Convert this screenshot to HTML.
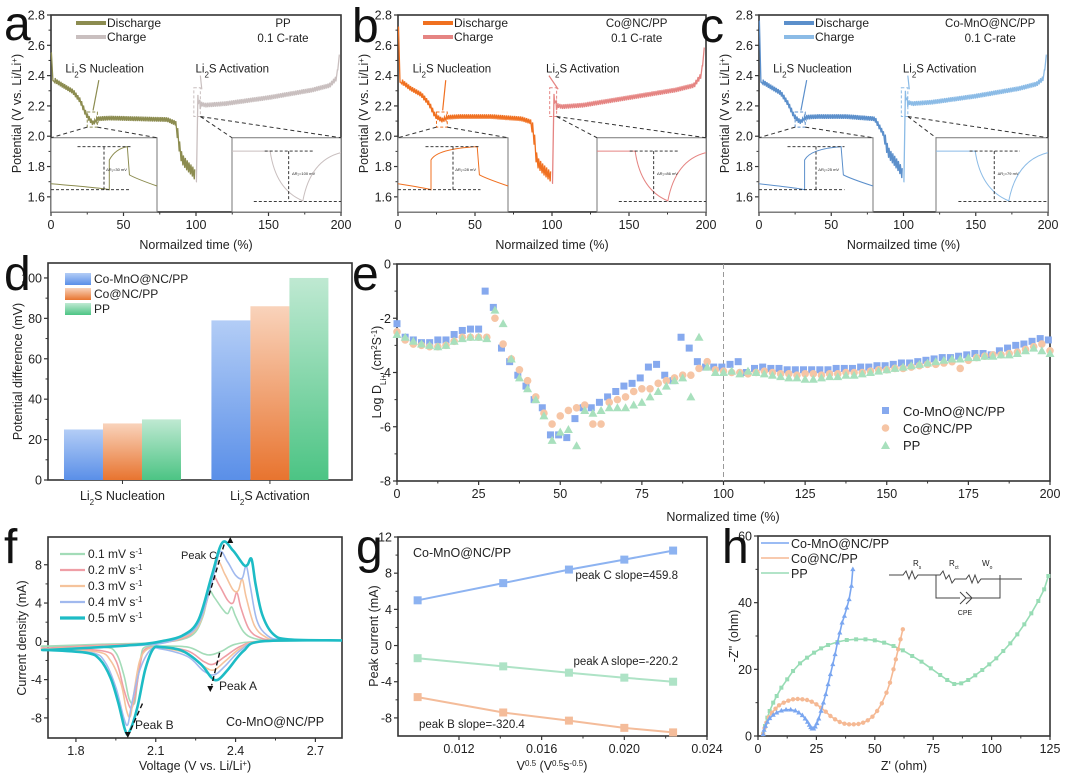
<!DOCTYPE html>
<html><head><meta charset="utf-8">
<style>
html,body{margin:0;padding:0;background:#fff;}
svg{display:block;font-family:"Liberation Sans",Arial,sans-serif;}
</style></head>
<body>
<svg id="fig" width="1080" height="778" viewBox="0 0 1080 778" xmlns="http://www.w3.org/2000/svg"></svg>
<script>
// ---------- data ----------
// panel a/b/c: GITT envelopes (t %, V loaded) and relaxation amplitude
const dchT = [0,1,3,8,15,20,24,27,29,32,40,60,80,86,88,90,94,97,100];
const aDchV = [2.55,2.37,2.35,2.32,2.28,2.22,2.13,2.09,2.07,2.10,2.105,2.10,2.095,2.07,1.92,1.82,1.77,1.74,1.70];
const bDchV = [2.72,2.36,2.34,2.30,2.26,2.20,2.12,2.10,2.09,2.11,2.115,2.115,2.10,2.08,1.98,1.80,1.75,1.72,1.69];
const cDchV = [2.76,2.36,2.34,2.31,2.27,2.20,2.12,2.09,2.08,2.11,2.115,2.115,2.10,2.00,1.90,1.85,1.80,1.76,1.70];
const chT = [100,100.5,101,103,106,120,150,180,192,197,199,200];
const aChV = [1.70,2.10,2.28,2.23,2.22,2.23,2.27,2.32,2.35,2.40,2.55,2.80];
const bChV = [1.69,2.10,2.29,2.22,2.21,2.22,2.27,2.32,2.35,2.42,2.60,2.80];
const cChV = [1.70,2.10,2.31,2.24,2.23,2.24,2.28,2.33,2.36,2.40,2.55,2.80];
const relaxAmp = 0.03;
// panel d
const dCats = ["Nucleation","Activation"];
const dBlue = [25,79];
const dOrange = [28,86];
const dGreen = [30,100];
// panel e
const eBlueX = [0,2.5,5,7.5,10,12.5,15,17.5,20,22.5,25,27,29.5,32,34.5,37,39.5,42,44.5,47,49.5,52,54.5,57,59.5,62,64.5,67,69.5,72,74.5,77,79.5,82,84.5,87,89.5,92,94.5,97,99.5,102,104.5,107,109.5,112,114.5,117,119.5,122,124.5,127,129.5,132,134.5,137,139.5,142,144.5,147,149.5,152,154.5,157,159.5,162,164.5,167,169.5,172,174.5,177,179.5,182,184.5,187,189.5,192,194.5,197,199.5];
const eBlueY = [-2.2,-2.7,-2.8,-2.9,-2.9,-2.8,-2.8,-2.6,-2.45,-2.4,-2.4,-1.0,-1.6,-3.1,-3.6,-4.1,-4.5,-5.0,-5.3,-6.3,-6.3,-6.4,-5.7,-5.3,-5.3,-5.1,-4.9,-4.7,-4.5,-4.4,-4.2,-3.8,-3.7,-4.1,-4.3,-2.7,-3.1,-3.6,-3.8,-3.8,-3.8,-3.7,-3.6,-4.0,-3.85,-3.8,-3.85,-3.85,-3.9,-3.9,-3.9,-3.9,-3.9,-3.9,-3.85,-3.85,-3.85,-3.8,-3.8,-3.75,-3.75,-3.7,-3.65,-3.65,-3.6,-3.55,-3.5,-3.45,-3.45,-3.4,-3.35,-3.3,-3.3,-3.35,-3.2,-3.1,-3.0,-2.95,-2.85,-2.75,-2.8];
const eOrangeX = [0,2.5,5,7.5,10,12.5,15,17.5,20,22.5,25,27.5,30,32.5,35,37.5,40,42.5,45,47.5,50,52.5,55,57.5,60,62.5,65,67.5,70,72.5,75,77.5,80,82.5,85,87.5,90,92.5,95,97.5,100,102.5,105,107.5,110,112.5,115,117.5,120,122.5,125,127.5,130,132.5,135,137.5,140,142.5,145,147.5,150,152.5,155,157.5,160,162.5,165,167.5,170,172.5,175,177.5,180,182.5,185,187.5,190,192.5,195,197.5,200];
const eOrangeY = [-2.5,-2.8,-2.95,-3.0,-3.05,-3.05,-3.0,-2.85,-2.7,-2.7,-2.7,-2.7,-2.0,-2.95,-3.5,-3.9,-4.3,-4.9,-5.5,-5.9,-5.6,-5.4,-5.3,-5.2,-5.9,-5.9,-5.1,-5.0,-4.9,-4.7,-4.6,-4.6,-4.4,-4.3,-4.2,-4.1,-4.1,-3.85,-3.6,-3.9,-3.95,-4.0,-4.0,-4.05,-4.0,-3.95,-4.0,-4.05,-4.05,-4.1,-4.05,-4.05,-4.1,-4.05,-4.05,-4.0,-4.0,-4.0,-3.95,-3.9,-3.9,-3.85,-3.85,-3.8,-3.75,-3.7,-3.7,-3.65,-3.6,-3.85,-3.55,-3.45,-3.4,-3.35,-3.35,-3.3,-3.25,-3.15,-3.05,-2.95,-3.2];
const eGreenX = [0,2.5,5,7.5,10,12.5,15,17.5,20,22.5,25,27.5,30,32.5,35,37.5,40,42.5,45,47.5,50,52.5,55,57.5,60,62.5,65,67.5,70,72.5,75,77.5,80,82.5,85,87.5,90,92.5,95,97.5,100,102.5,105,107.5,110,112.5,115,117.5,120,122.5,125,127.5,130,132.5,135,137.5,140,142.5,145,147.5,150,152.5,155,157.5,160,162.5,165,167.5,170,172.5,175,177.5,180,182.5,185,187.5,190,192.5,195,197.5,200];
const eGreenY = [-2.6,-2.7,-2.85,-2.95,-3.0,-3.05,-3.0,-2.85,-2.75,-2.7,-2.7,-2.75,-1.7,-2.2,-3.5,-4.2,-4.6,-5.0,-5.6,-6.5,-6.2,-6.1,-6.7,-5.4,-5.5,-5.4,-5.3,-5.3,-5.3,-5.2,-5.1,-4.9,-4.7,-4.5,-4.3,-4.2,-4.9,-2.7,-3.8,-4.0,-4.0,-3.95,-4.05,-3.95,-4.0,-4.05,-4.1,-4.15,-4.2,-4.2,-4.25,-4.25,-4.2,-4.15,-4.15,-4.1,-4.1,-4.05,-4.0,-3.95,-3.9,-3.85,-3.8,-3.75,-3.7,-3.65,-3.6,-3.55,-3.5,-3.5,-3.45,-3.45,-3.4,-3.4,-3.35,-3.35,-3.3,-3.2,-3.1,-3.2,-3.3];
// panel f: CV loops (V, mA)
const f01V=[2.8,2.5,2.4,2.35,2.31,2.28,2.22,2.12,2.06,2.045,2.03,2.02,2.0,1.98,1.95,1.9,1.695,1.695,1.9,2.1,2.2,2.25,2.28,2.30,2.32,2.35,2.37,2.385,2.40,2.43,2.47,2.55,2.8];
const f01I=[0.1,0.0,-0.3,-1.0,-1.4,-1.3,-0.6,-0.5,-0.6,-1.5,-4.5,-6.5,-6.0,-3.5,-1.2,-0.6,-0.5,-0.5,-0.3,-0.15,0.2,1.0,2.8,5.2,4.6,3.4,2.9,3.6,2.6,1.0,0.3,0.1,0.1];
const f02V=[2.8,2.5,2.42,2.36,2.315,2.28,2.22,2.12,2.07,2.05,2.035,2.02,2.005,1.98,1.95,1.9,1.695,1.695,1.9,2.1,2.2,2.25,2.29,2.31,2.34,2.37,2.39,2.405,2.42,2.45,2.49,2.56,2.8];
const f02I=[0.1,0.0,-0.5,-1.6,-2.4,-2.1,-1.0,-0.6,-0.7,-1.3,-3.5,-6.0,-7.0,-5.0,-2.0,-1.0,-0.7,-0.7,-0.4,-0.2,0.3,1.3,4.0,6.9,5.8,4.3,4.0,5.1,3.5,1.3,0.4,0.1,0.1];
const f03V=[2.8,2.5,2.42,2.36,2.318,2.28,2.22,2.12,2.07,2.04,2.02,2.005,1.99,1.97,1.93,1.88,1.695,1.695,1.9,2.1,2.2,2.26,2.30,2.33,2.36,2.39,2.41,2.425,2.44,2.47,2.51,2.57,2.8];
const f03I=[0.1,0.0,-0.7,-2.1,-3.0,-2.6,-1.3,-0.7,-0.8,-2.0,-5.0,-7.8,-7.2,-4.5,-2.0,-1.1,-0.8,-0.8,-0.5,-0.25,0.4,1.6,5.0,8.3,7.0,5.4,5.3,6.5,4.6,1.7,0.5,0.1,0.1];
const f04V=[2.8,2.5,2.42,2.36,2.32,2.28,2.22,2.12,2.08,2.04,2.01,1.995,1.98,1.95,1.91,1.86,1.695,1.695,1.9,2.1,2.2,2.26,2.31,2.34,2.37,2.40,2.425,2.44,2.455,2.48,2.52,2.58,2.8];
const f04I=[0.1,0.0,-0.9,-2.6,-3.5,-3.1,-1.6,-0.8,-0.9,-3.0,-6.5,-8.7,-8.0,-4.8,-2.2,-1.2,-0.9,-0.9,-0.55,-0.3,0.5,1.8,6.0,9.3,8.3,6.9,6.6,7.9,5.8,2.2,0.6,0.15,0.1];
const f05V=[2.8,2.5,2.43,2.37,2.335,2.31,2.27,2.2,2.12,2.09,2.06,2.03,2.0,1.985,1.96,1.93,1.89,1.84,1.695,1.695,1.9,2.05,2.12,2.2,2.26,2.31,2.35,2.39,2.43,2.445,2.46,2.475,2.5,2.54,2.6,2.8];
const f05I=[0.1,0.0,-1.0,-3.0,-4.0,-3.8,-2.4,-1.0,-0.6,-0.8,-3.0,-7.0,-9.5,-9.3,-6.5,-3.8,-1.9,-1.2,-0.9,-0.9,-0.6,-0.3,0.0,0.6,2.2,6.8,10.3,9.5,8.0,8.0,8.6,6.0,2.8,0.8,0.2,0.1];
// panel g
const gX = [0.01,0.01414,0.01732,0.02,0.02236];
const gC = [5.0,6.9,8.4,9.5,10.5];
const gA = [-1.4,-2.3,-3.0,-3.55,-4.0];
const gB = [-5.7,-7.4,-8.3,-9.1,-9.6];
// panel h: Nyquist (Z', -Z'')
const hBlueX=[2.2,2.6,3.2,4,5,6.5,8,10,12,14,16,17.5,19,20.2,21.2,22,22.6,23.2,23.8,24.5,25.2,26,27,28,29,30,31,32,33,34,35,36,37,38,39,40,40.6];
const hBlueY=[0.5,1.8,3,4.2,5.3,6.3,7,7.6,7.9,7.9,7.6,7,6.2,5.2,4.2,3.3,2.6,2.2,2.2,2.8,3.8,5.2,7.5,10,12.5,15.5,18.5,21.5,24.5,28,31,34,36,38.5,41,45,50];
const hOrX=[2.2,2.8,3.6,4.6,6,7.5,9,11,13,15,17,19,21,23,25,27,29,31,33,35,37,39,41,43,45,47,49,51,53,55,56.5,58,59,60,61,62];
const hOrY=[0.6,2.4,4,5.6,7,8.2,9.2,10,10.6,11,11.1,11,10.8,10.3,9.5,8.5,7.3,6,5,4.2,3.7,3.5,3.5,3.6,4,4.7,5.8,7.5,9.8,13,16,20,23,26,29,32];
const hGrX=[2.2,3,4,5,6.5,8,10,12.5,15,18,21,24,27,30,34,38,42,46,50,54,58,62,66,70,74,78,81,84,87,90,93,96,99,102,105,108,111,114,117,120,122.5,124.3];
const hGrY=[0.6,3,5.5,7.5,10,12,14.5,17,19.5,21.8,23.5,25,26.3,27.3,28.2,28.8,29,29,28.7,28,27,25.7,24,22.3,20.3,18.3,16.8,15.6,15.8,16.8,18.2,19.8,21.5,23.3,25.5,27.8,30.5,33.5,36.8,40.5,44,48];

// ---------- helpers ----------
const NS="http://www.w3.org/2000/svg";
const svg=document.getElementById('fig');
function mk(parent, tag, attrs, name, inter){
  const e=document.createElementNS(NS,tag);
  for(const k in attrs) e.setAttribute(k,attrs[k]);
  
  
  parent.appendChild(e); return e;
}
function txt(parent,x,y,s,size,name,opts){
  opts=opts||{};
  const t=mk(parent,'text',{x:x,y:y,'font-size':size,fill:opts.fill||'#222','text-anchor':opts.anchor||'start'},name);
  if(opts.rot) t.setAttribute('transform','rotate(-90 '+x+' '+y+')');
  if(opts.html) t.innerHTML=s; else t.textContent=s;
  return t;
}
function scale(d0,d1,r0,r1){return v=>r0+(v-d0)/(d1-d0)*(r1-r0);}
function interp(xs,ys,x){
  for(let i=1;i<xs.length;i++){ if(x<=xs[i]){const f=(x-xs[i-1])/(xs[i]-xs[i-1]||1);return ys[i-1]+f*(ys[i]-ys[i-1]);}}
  return ys[ys.length-1];
}
function axes(g,F,xd,yd,xt,yt,xfmt,yfmt,pre){
  const sx=scale(xd[0],xd[1],F.x0,F.x1), sy=scale(yd[0],yd[1],F.y1,F.y0);
  mk(g,'rect',{x:F.x0,y:F.y0,width:F.x1-F.x0,height:F.y1-F.y0,fill:'none',stroke:'#333','stroke-width':1.6},pre+'-plot-frame');
  xt.forEach((v,i)=>{const x=sx(v);
    mk(g,'line',{x1:x,x2:x,y1:F.y1,y2:F.y1+4,stroke:'#333','stroke-width':1.2},pre+'-x-tick');
    txt(g,x,F.y1+17,xfmt?xfmt(v):String(v),12.5,pre+'-x-tick-label',{anchor:'middle'});
    if(i<xt.length-1){const xm=sx((v+xt[i+1])/2);mk(g,'line',{x1:xm,x2:xm,y1:F.y1,y2:F.y1+2.5,stroke:'#333','stroke-width':1},pre+'-x-minor-tick');}
  });
  yt.forEach((v,i)=>{const y=sy(v);
    mk(g,'line',{x1:F.x0-4,x2:F.x0,y1:y,y2:y,stroke:'#333','stroke-width':1.2},pre+'-y-tick');
    txt(g,F.x0-6,y+4.5,yfmt?yfmt(v):String(v),12.5,pre+'-y-tick-label',{anchor:'end'});
    if(i<yt.length-1){const ym=sy((v+yt[i+1])/2);mk(g,'line',{x1:F.x0-2.5,x2:F.x0,y1:ym,y2:ym,stroke:'#333','stroke-width':1},pre+'-y-minor-tick');}
  });
  return [sx,sy];
}
function pathFrom(xs,ys,sx,sy){return xs.map((x,i)=>(i?'L':'M')+sx(x).toFixed(1)+' '+sy(ys[i]).toFixed(1)).join(' ');}
function smoothPath(xs,ys,sx,sy){
  const P=xs.map((x,i)=>[sx(x),sy(ys[i])]);
  let d='M'+P[0][0].toFixed(1)+' '+P[0][1].toFixed(1);
  for(let i=0;i<P.length-1;i++){
    const p0=P[i-1]||P[i],p1=P[i],p2=P[i+1],p3=P[i+2]||p2;
    const c1=[p1[0]+(p2[0]-p0[0])/6,p1[1]+(p2[1]-p0[1])/6],c2=[p2[0]-(p3[0]-p1[0])/6,p2[1]-(p3[1]-p1[1])/6];
    d+=' C'+c1[0].toFixed(1)+' '+c1[1].toFixed(1)+' '+c2[0].toFixed(1)+' '+c2[1].toFixed(1)+' '+p2[0].toFixed(1)+' '+p2[1].toFixed(1);
  }
  return d;
}
function letter(x,y,s){txt(svg,x,y,s,48,'panel-label-'+s,{fill:'#111'});}

// ---------- panels a,b,c ----------
function gitt(F,dchV,chV,cD,cC,sample,pre,insets,dText1,dText2,vals){
  const g=mk(svg,'g',{},pre+'-panel');
  const [sx,sy]=axes(g,F,[0,200],[1.5,2.8],[0,50,100,150,200],[1.6,1.8,2.0,2.2,2.4,2.6,2.8],null,v=>v.toFixed(1),pre);
  txt(g,(F.x0+F.x1)/2,F.y1+37,'Normailzed time (%)',12.5,pre+'-x-axis-title',{anchor:'middle'});
  txt(g,F.x0-30,(F.y0+F.y1)/2,'Potential (V vs. Li/Li<tspan baseline-shift="super" font-size="8">+</tspan>)',12.5,pre+'-y-axis-title',{anchor:'middle',rot:1,html:1});
  // discharge zigzag
  let d='';
  for(let t=0;t<=100;t+=1.3){const v=interp(dchT,dchV,t);const amp=(t<2)?0:relaxAmp*(t>86?2.2:1);
    d+=(d?'L':'M')+sx(t).toFixed(1)+' '+sy(v).toFixed(1)+' L'+sx(t+0.3).toFixed(1)+' '+sy(v+amp).toFixed(1)+' ';}
  mk(g,'path',{d:d,fill:'none',stroke:cD,'stroke-width':1.3},pre+'-discharge-curve');
  let c='';
  for(let t=100;t<=200;t+=1.3){const v=interp(chT,chV,t);const amp=(t<101||t>197)?0:-relaxAmp*(t<103?2:1);
    c+=(c?'L':'M')+sx(t).toFixed(1)+' '+sy(v).toFixed(1)+' L'+sx(t+0.3).toFixed(1)+' '+sy(v+amp).toFixed(1)+' ';}
  mk(g,'path',{d:c,fill:'none',stroke:cC,'stroke-width':1.3},pre+'-charge-curve');
  // legend
  mk(g,'line',{x1:F.x0+25,x2:F.x0+55,y1:F.y0+8,y2:F.y0+8,stroke:cD,'stroke-width':4},pre+'-legend-discharge-line');
  txt(g,F.x0+56,F.y0+12,'Discharge',12,pre+'-legend-discharge-text');
  mk(g,'line',{x1:F.x0+25,x2:F.x0+55,y1:F.y0+22,y2:F.y0+22,stroke:cC,'stroke-width':4},pre+'-legend-charge-line');
  txt(g,F.x0+56,F.y0+26,'Charge',12,pre+'-legend-charge-text');
  txt(g,sx(sample[1]),F.y0+12,sample[0],11.5,pre+'-sample-label',{anchor:'middle'});
  txt(g,sx(sample[1]),F.y0+27,'0.1 C-rate',11.5,pre+'-rate-label',{anchor:'middle'});
  // labels
  txt(g,sx(dText1),sy(2.42),'Li<tspan baseline-shift="sub" font-size="8">2</tspan>S Nucleation',11.5,pre+'-nucleation-label',{anchor:'middle',html:1});
  txt(g,sx(dText2),sy(2.42),'Li<tspan baseline-shift="sub" font-size="8">2</tspan>S Activation',11.5,pre+'-activation-label',{anchor:'middle',html:1});
  mk(g,'line',{x1:sx(dText1-4),y1:sy(2.37),x2:sx(29),y2:sy(2.17),stroke:cD,'stroke-width':1.2},pre+'-nucleation-arrow');
  mk(g,'line',{x1:sx(dText2-22),y1:sy(2.4),x2:sx(104),y2:sy(2.31),stroke:cC,'stroke-width':1.2},pre+'-activation-arrow');
  mk(g,'rect',{x:sx(25),y:sy(2.16),width:sx(32)-sx(25),height:sy(2.06)-sy(2.16),fill:'none',stroke:cD,'stroke-dasharray':'3 2','stroke-width':1},pre+'-nucleation-zoom-box');
  mk(g,'rect',{x:sx(98.5),y:sy(2.32),width:sx(103)-sx(98.5),height:sy(2.13)-sy(2.32),fill:'none',stroke:cC,'stroke-dasharray':'3 2','stroke-width':1},pre+'-activation-zoom-box');
  // insets
  const top=sy(1.99);
  const L=insets[0],R=insets[1];
  mk(g,'rect',{x:L[0],y:top,width:L[1]-L[0],height:F.y1-top,fill:'#fff',stroke:'#777','stroke-width':1},pre+'-inset-nucleation');
  mk(g,'rect',{x:R[0],y:top,width:R[1]-R[0],height:F.y1-top,fill:'#fff',stroke:'#777','stroke-width':1},pre+'-inset-activation');
  mk(g,'path',{d:'M'+sx(25)+' '+sy(2.06)+' L'+L[0]+' '+top+' M'+sx(32)+' '+sy(2.06)+' L'+L[1]+' '+top,stroke:'#333','stroke-dasharray':'4 3',fill:'none'},pre+'-nucleation-guide-lines');
  mk(g,'path',{d:'M'+sx(103)+' '+sy(2.13)+' L'+R[0]+' '+top+' M'+sx(103)+' '+sy(2.13)+' L'+R[1]+' '+top,stroke:'#333','stroke-dasharray':'4 3',fill:'none'},pre+'-activation-guide-lines');
  const lw=L[1]-L[0],h=F.y1-top;
  const jx=L[0]+lw*vals[0];
  mk(g,'path',{d:'M'+L[0]+' '+(top+h*0.62)+' Q'+(jx-5)+' '+(top+h*0.68)+' '+jx+' '+(top+h*0.7)+' L'+jx+' '+(top+h*0.3)+' Q'+(jx+6)+' '+(top+h*0.15)+' '+(L[0]+lw*0.72)+' '+(top+h*0.12)+' L'+(L[0]+lw*0.74)+' '+(top+h*0.5)+' Q'+(L[0]+lw*0.8)+' '+(top+h*0.55)+' '+L[1]+' '+(top+h*0.65),fill:'none',stroke:cD,'stroke-width':1},pre+'-inset-nucleation-curve');
  mk(g,'path',{d:'M'+(L[0]+lw*0.25)+' '+(top+h*0.12)+' H'+(L[0]+lw*0.75)+' M'+(L[0])+' '+(top+h*0.7)+' H'+(L[0]+lw*0.75)+' M'+(L[0]+lw*0.5)+' '+(top+h*0.12)+' V'+(top+h*0.72),stroke:'#222','stroke-dasharray':'3 2',fill:'none','stroke-width':0.9},pre+'-inset-nucleation-guides');
  txt(g,L[0]+lw*0.52,top+h*0.45,'ΔR\u2081='+vals[1]+' mV',4,pre+'-inset-nucleation-value');
  const rw=R[1]-R[0];
  mk(g,'path',{d:'M'+R[0]+' '+(top+h*0.18)+' H'+(R[0]+rw*0.35)+' Q'+(R[0]+rw*0.4)+' '+(top+h*0.7)+' '+(R[0]+rw*0.65)+' '+(top+h*0.85)+' Q'+(R[0]+rw*0.72)+' '+(top+h*0.3)+' '+R[1]+' '+(top+h*0.2),fill:'none',stroke:cC,'stroke-width':1},pre+'-inset-activation-curve');
  mk(g,'path',{d:'M'+(R[0]+rw*0.3)+' '+(top+h*0.18)+' H'+(R[0]+rw*0.75)+' M'+(R[0]+rw*0.2)+' '+(top+h*0.86)+' H'+R[1]+' M'+(R[0]+rw*0.52)+' '+(top+h*0.18)+' V'+(top+h*0.86),stroke:'#222','stroke-dasharray':'3 2',fill:'none','stroke-width':0.9},pre+'-inset-activation-guides');
  txt(g,R[0]+rw*0.55,top+h*0.5,'ΔR\u2082='+vals[2]+' mV',4,pre+'-inset-activation-value');
}
gitt({x0:51,x1:341,y0:15,y1:212},aDchV,aChV,'#8c8c50','#c9bfbf',['PP',160],'a',[[51,157],[232,341]],37,125,[0.55,30,100]);
gitt({x0:398,x1:706,y0:15,y1:212},bDchV,bChV,'#f07020','#e58482',['Co@NC/PP',155],'b',[[398,508],[597,706]],35,120,[0.3,28,86]);
gitt({x0:759,x1:1048,y0:15,y1:212},cDchV,cChV,'#5b8fcb','#8bbbe6',['Co-MnO@NC/PP',160],'c',[[759,873],[936,1048]],37,125,[0.4,25,79]);
letter(4,40,'a');letter(352,42,'b');letter(700,42,'c');

// ---------- panel d ----------
(function(){
  const F={x0:48,x1:352,y0:263,y1:480};
  const g=mk(svg,'g',{},'d-panel');
  const defs=mk(svg,'defs',{},'gradients');
  [['gBlue','#b3cdf6','#5a8fe8'],['gOr','#f9d3bb','#e8742f'],['gGr','#bfe9d2','#4cc484']].forEach(a=>{
    const lg=mk(defs,'linearGradient',{id:a[0],x1:0,y1:0,x2:0,y2:1},'gradient');
    mk(lg,'stop',{offset:0,'stop-color':a[1]},'stop');mk(lg,'stop',{offset:1,'stop-color':a[2]},'stop');});
  const [sx,sy]=axes(g,F,[0,1],[0,107.4],[],[0,20,40,60,80,100],null,null,'d');
  const series=[[dBlue,'url(#gBlue)','co-mno'],[dOrange,'url(#gOr)','co-nc'],[dGreen,'url(#gGr)','pp']];
  dCats.forEach((c,i)=>{
    const cx=F.x0+(F.x1-F.x0)*(0.245+i*0.485);
    series.forEach((s,j)=>{
      const v=s[0][i];
      mk(g,'rect',{x:cx-58.5+j*39,y:sy(v),width:39,height:sy(0)-sy(v),fill:s[1]},'bar-'+s[2]+'-'+c.toLowerCase());
    });
    mk(g,'line',{x1:cx,x2:cx,y1:F.y1,y2:F.y1+4,stroke:'#333'},'d-x-tick');
    txt(g,cx,F.y1+20,'Li<tspan baseline-shift="sub" font-size="8">2</tspan>S '+c,12.5,'d-category-label',{anchor:'middle',html:1});
  });
  txt(g,22,(F.y0+F.y1)/2,'Potential difference (mV)',12.5,'d-y-axis-title',{anchor:'middle',rot:1});
  [['Co-MnO@NC/PP','url(#gBlue)'],['Co@NC/PP','url(#gOr)'],['PP','url(#gGr)']].forEach((l,i)=>{
    mk(g,'rect',{x:65,y:273+i*15,width:26,height:12,fill:l[1]},'d-legend-swatch');
    txt(g,94,283+i*15,l[0],12,'d-legend-text');
  });
})();
letter(4,290,'d');

// ---------- panel e ----------
(function(){
  const F={x0:397,x1:1050,y0:264,y1:481};
  const g=mk(svg,'g',{},'e-panel');
  const [sx,sy]=axes(g,F,[0,200],[-8,0],[0,25,50,75,100,125,150,175,200],[-8,-6,-4,-2,0],null,null,'e');
  mk(g,'line',{x1:sx(100),x2:sx(100),y1:F.y0,y2:F.y1,stroke:'#999','stroke-dasharray':'5 3'},'e-reference-line-100');
  eBlueX.forEach((x,i)=>mk(g,'rect',{x:sx(x)-3.5,y:sy(eBlueY[i])-3.5,width:7,height:7,fill:'#86a9ee'},'e-point-co-mno'));
  eOrangeX.forEach((x,i)=>mk(g,'circle',{cx:sx(x),cy:sy(eOrangeY[i]),r:3.8,fill:'#f6c5a5'},'e-point-co-nc'));
  eGreenX.forEach((x,i)=>{const X=sx(x),Y=sy(eGreenY[i]);mk(g,'path',{d:'M'+X+' '+(Y-4.5)+' L'+(X+4.5)+' '+(Y+3.5)+' L'+(X-4.5)+' '+(Y+3.5)+'Z',fill:'#a8e0bd'},'e-point-pp');});
  mk(g,'rect',{x:882,y:407,width:7,height:7,fill:'#86a9ee'},'e-legend-marker-co-mno');
  txt(g,903,416,'Co-MnO@NC/PP',13,'e-legend-text');
  mk(g,'circle',{cx:885.5,cy:428,r:3.8,fill:'#f6c5a5'},'e-legend-marker-co-nc');
  txt(g,903,433,'Co@NC/PP',13,'e-legend-text');
  mk(g,'path',{d:'M885.5 441 L890 449 L881 449Z',fill:'#a8e0bd'},'e-legend-marker-pp');
  txt(g,903,450,'PP',13,'e-legend-text');
  txt(g,723,521,'Normalized time (%)',12.5,'e-x-axis-title',{anchor:'middle'});
  txt(g,381,372,'Log D<tspan baseline-shift="sub" font-size="8">Li+</tspan> (cm<tspan baseline-shift="super" font-size="8">2</tspan>S<tspan baseline-shift="super" font-size="8">-1</tspan>)',12.5,'e-y-axis-title',{anchor:'middle',rot:1,html:1});
})();
letter(352,290,'e');

// ---------- panel f ----------
(function(){
  const F={x0:48,x1:342,y0:537,y1:738};
  const g=mk(svg,'g',{},'f-panel');
  const [sx,sy]=axes(g,F,[1.695,2.8],[-10.1,10.9],[1.8,2.1,2.4,2.7],[-8,-4,0,4,8],v=>v.toFixed(1),null,'f');
  const cv=[[f01V,f01I,'#a3dcb8',1.6,'0.1'],[f02V,f02I,'#ef9ea6',1.6,'0.2'],[f03V,f03I,'#f5c39c',1.6,'0.3'],[f04V,f04I,'#a1b9ee',1.6,'0.4'],[f05V,f05I,'#1dbcc5',2.6,'0.5']];
  cv.forEach((c,i)=>{
    mk(g,'path',{d:smoothPath(c[0],c[1],sx,sy),fill:'none',stroke:c[2],'stroke-width':c[3]},'cv-curve-'+c[4]);
    mk(g,'line',{x1:60,x2:85,y1:554+i*16,y2:554+i*16,stroke:c[2],'stroke-width':c[3]+0.6},'f-legend-line');
    txt(g,88,558+i*16,c[4]+' mV s<tspan baseline-shift="super" font-size="8">-1</tspan>',12,'f-legend-text',{html:1});
  });
  mk(g,'path',{d:'M'+sx(2.30)+' '+sy(4.8)+' L'+sx(2.36)+' '+sy(10.4),stroke:'#111','stroke-dasharray':'5 3','stroke-width':1.4,fill:'none'},'f-peak-c-arrow');
  mk(g,'path',{d:'M'+sx(2.38)+' '+sy(10.9)+' l-3 6 l6 0z',fill:'#111'},'f-peak-c-arrowhead');
  mk(g,'path',{d:'M'+sx(2.34)+' '+sy(-1.2)+' L'+sx(2.31)+' '+sy(-4.6),stroke:'#111','stroke-dasharray':'5 3','stroke-width':1.4,fill:'none'},'f-peak-a-arrow');
  mk(g,'path',{d:'M'+sx(2.305)+' '+sy(-5.3)+' l-3 -6 l6 0z',fill:'#111'},'f-peak-a-arrowhead');
  mk(g,'path',{d:'M'+sx(2.05)+' '+sy(-6.5)+' L'+sx(2.0)+' '+sy(-9.6),stroke:'#111','stroke-dasharray':'5 3','stroke-width':1.4,fill:'none'},'f-peak-b-arrow');
  mk(g,'path',{d:'M'+sx(1.995)+' '+sy(-10.1)+' l-3 -6 l6 0z',fill:'#111'},'f-peak-b-arrowhead');
  txt(g,181,559,'Peak C',11,'f-peak-c-label');
  txt(g,219,690,'Peak A',12,'f-peak-a-label');
  txt(g,135,729,'Peak B',12,'f-peak-b-label');
  txt(g,226,726,'Co-MnO@NC/PP',12.5,'f-sample-label');
  txt(g,195,770,'Voltage (V vs. Li/Li<tspan baseline-shift="super" font-size="8">+</tspan>)',12.5,'f-x-axis-title',{anchor:'middle',html:1});
  txt(g,26,638,'Current density (mA)',12.5,'f-y-axis-title',{anchor:'middle',rot:1});
})();
letter(4,563,'f');

// ---------- panel g ----------
(function(){
  const F={x0:398,x1:707,y0:537,y1:736};
  const g=mk(svg,'g',{},'g-panel');
  const [sx,sy]=axes(g,F,[0.00905,0.024],[-10,12],[0.012,0.016,0.020,0.024],[-8,-4,0,4,8,12],v=>v.toFixed(3),null,'g');
  [[gC,'#8db3f1','peak-c'],[gA,'#aee3c6','peak-a'],[gB,'#f4bc9a','peak-b']].forEach(s=>{
    mk(g,'path',{d:pathFrom(gX,s[0],sx,sy),fill:'none',stroke:s[1],'stroke-width':2},'g-fit-line-'+s[2]);
    gX.forEach((x,i)=>mk(g,'rect',{x:sx(x)-4,y:sy(s[0][i])-4,width:8,height:8,fill:s[1]},'g-point-'+s[2]));
  });
  txt(g,413,557,'Co-MnO@NC/PP',12.5,'g-sample-label');
  txt(g,678,579,'peak C slope=459.8',11.5,'g-slope-c-label',{anchor:'end'});
  txt(g,678,665,'peak A slope=-220.2',11.5,'g-slope-a-label',{anchor:'end'});
  txt(g,419,728,'peak B slope=-320.4',11.5,'g-slope-b-label');
  txt(g,552,770,'V<tspan baseline-shift="super" font-size="8">0.5</tspan> (V<tspan baseline-shift="super" font-size="8">0.5</tspan>s<tspan baseline-shift="super" font-size="8">-0.5</tspan>)',12.5,'g-x-axis-title',{anchor:'middle',html:1});
  txt(g,378,636,'Peak current (mA)',12.5,'g-y-axis-title',{anchor:'middle',rot:1});
})();
letter(356,563,'g');

// ---------- panel h ----------
(function(){
  const F={x0:758,x1:1050,y0:536,y1:736};
  const g=mk(svg,'g',{},'h-panel');
  const [sx,sy]=axes(g,F,[0,125],[0,60],[0,25,50,75,100,125],[0,20,40,60],null,null,'h');
  [[hGrX,hGrY,'#98dcb5','pp','sq'],[hOrX,hOrY,'#f5b994','co-nc','ci'],[hBlueX,hBlueY,'#7aa6f0','co-mno','tr']].forEach(s=>{
    mk(g,'path',{d:pathFrom(s[0],s[1],sx,sy),fill:'none',stroke:s[2],'stroke-width':1.6},'h-line-'+s[3]);
    s[0].forEach((x,i)=>{const X=sx(x),Y=sy(s[1][i]);
      if(s[4]==='sq') mk(g,'rect',{x:X-2,y:Y-2,width:4,height:4,fill:s[2]},'h-point-'+s[3]);
      else if(s[4]==='ci') mk(g,'circle',{cx:X,cy:Y,r:2.2,fill:s[2]},'h-point-'+s[3]);
      else mk(g,'path',{d:'M'+X+' '+(Y-2.8)+' l2.6 4.6 l-5.2 0z',fill:s[2]},'h-point-'+s[3]);});
  });
  [['Co-MnO@NC/PP','#7aa6f0'],['Co@NC/PP','#f5b994'],['PP','#98dcb5']].forEach((l,i)=>{
    mk(g,'line',{x1:761,x2:789,y1:543+i*15,y2:543+i*15,stroke:l[1],'stroke-width':1.6},'h-legend-line');
    txt(g,791,548+i*15,l[0],12.5,'h-legend-text');
  });
  mk(g,'path',{d:'M889 575 H903 l3 -4 l3 8 l3 -8 l3 8 l3 -4 H936 M936 575 H940 l3 -4 l3 8 l3 -4 l3 8 l3 -4 H966 l3 -4 l3 8 l3 -8 l3 8 l3 -4 H1022 M936 575 V598 H960 M966 598 H1000 V575 M960 592 l6 6 l-6 6 M966 592 l6 6 l-6 6',fill:'none',stroke:'#444','stroke-width':1},'h-equivalent-circuit');
  txt(g,913,566,'R<tspan baseline-shift="sub" font-size="5">s</tspan>',8,'h-circuit-rs',{html:1});
  txt(g,949,566,'R<tspan baseline-shift="sub" font-size="5">ct</tspan>',8,'h-circuit-rct',{html:1});
  txt(g,982,566,'W<tspan baseline-shift="sub" font-size="5">o</tspan>',8,'h-circuit-wo',{html:1});
  txt(g,965,615,'CPE',7,'h-circuit-cpe',{anchor:'middle'});
  txt(g,904,770,"Z' (ohm)",12.5,'h-x-axis-title',{anchor:'middle'});
  txt(g,738,636,"-Z'' (ohm)",12.5,'h-y-axis-title',{anchor:'middle',rot:1});
})();
letter(722,563,'h');
</script>
</body></html>
